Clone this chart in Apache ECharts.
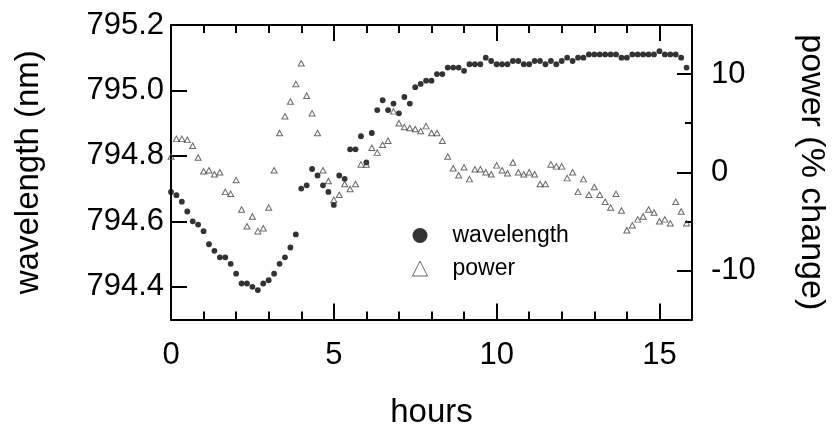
<!DOCTYPE html>
<html><head><meta charset="utf-8">
<script src="https://cdn.jsdelivr.net/npm/echarts@6/dist/echarts.min.js"></script>
<style>html,body{margin:0;padding:0;background:#fff}#c{width:833px;height:428px}</style>
</head><body><div id="c"></div>
<script>
// sample times (minutes since start)
const minutes = [0,10,20,30,40,50,60,70,80,90,100,110,120,130,140,150,160,170,180,190,
  200,210,220,230,240,250,260,270,280,290,300,310,320,330,340,350,360,370,380,390,
  400,410,420,430,440,450,460,470,480,490,500,510,520,530,540,550,560,570,580,590,
  600,610,620,630,640,650,660,670,680,690,700,710,720,730,740,750,760,770,780,790,
  800,810,820,830,840,850,860,870,880,890,900,910,920,930,940,950];
// wavelength (nm)
const wavelength = [794.69,794.68,794.66,794.63,794.60,794.59,794.57,794.53,794.51,794.49,
  794.49,794.47,794.44,794.41,794.41,794.40,794.39,794.41,794.42,794.44,
  794.47,794.49,794.52,794.56,794.70,794.71,794.76,794.74,794.71,794.69,
  794.65,794.74,794.73,794.82,794.82,794.86,794.78,794.87,794.94,794.97,
  794.94,794.96,794.93,794.98,794.96,795.01,795.02,795.03,795.03,795.05,
  795.05,795.07,795.07,795.07,795.06,795.08,795.08,795.08,795.10,795.09,
  795.08,795.08,795.08,795.09,795.09,795.08,795.08,795.09,795.09,795.08,
  795.09,795.08,795.09,795.10,795.09,795.10,795.10,795.11,795.11,795.11,
  795.11,795.11,795.11,795.10,795.10,795.11,795.11,795.11,795.11,795.11,
  795.12,795.11,795.11,795.11,795.10,795.07];
// power (% change)
const power = [1.6,3.4,3.4,3.3,2.7,1.5,0.1,0.2,-0.2,0.0,
  -2.0,-2.2,-0.8,-3.8,-5.5,-4.5,-6.0,-5.7,-3.6,0.2,
  4.0,5.7,7.2,9.0,11.1,7.8,6.0,4.0,0.2,-0.9,
  -2.8,-2.3,-1.2,-1.7,-1.2,0.8,0.8,2.5,2.0,2.8,
  3.2,6.2,5.0,4.6,4.5,4.4,4.2,4.7,4.0,4.0,
  3.2,1.6,0.4,-0.3,0.5,-0.7,0.3,0.3,0.0,-0.2,
  0.7,0.2,-0.1,1.0,0.0,-0.2,0.0,-0.2,-1.2,-1.2,
  0.8,0.6,0.6,-0.6,0.0,-2.0,-0.7,-2.3,-1.5,-2.3,
  -3.0,-3.6,-2.2,-3.9,-5.9,-5.4,-4.8,-4.5,-3.8,-4.1,
  -5.0,-4.8,-5.2,-3.0,-4.0,-5.2];
const hourTicks = [0,5,10,15];
const wavelengthTicks = [794.4,794.6,794.8,795.0,795.2];
const powerTicks = [-10,0,10];

const FONT = 'Liberation Sans, Arial, Helvetica, sans-serif';
const line = {color:'#000', width:2};
const noSplit = {show:false};

const chart = echarts.init(document.getElementById('c'));
chart.setOption({
  animation:false,
  backgroundColor:'#fff',
  textStyle:{fontFamily:FONT},
  grid:{left:171, top:25, width:521, height:294.5, containLabel:false, outerBoundsMode:'none'},
  legend:{
    orient:'vertical', left:412, top:224, padding:0,
    itemWidth:15, itemHeight:15, itemGap:10,
    textStyle:{fontSize:23, color:'#000', fontFamily:FONT, padding:[0,0,0,20]},
    data:[
      {name:'wavelength', icon:'circle', itemStyle:{color:'#000'}},
      {name:'power', icon:'triangle', itemStyle:{color:'#fff', borderColor:'#444', borderWidth:1}}
    ]
  },
  xAxis:[
    {type:'value', position:'bottom', min:0, max:16, interval:5,
     name:'hours', nameLocation:'middle', nameGap:77,
     nameTextStyle:{fontSize:33, color:'#000', fontFamily:FONT},
     axisLine:{show:true, onZero:false, lineStyle:line},
     axisTick:{show:true, inside:true, length:16, lineStyle:line, customValues:hourTicks},
     axisLabel:{customValues:hourTicks, fontSize:31, color:'#000', margin:20, fontFamily:FONT},
     splitLine:noSplit},
    {type:'value', position:'bottom', min:0, max:16, interval:1,
     axisLine:{show:false, onZero:false}, axisTick:{show:true, inside:true, length:8, lineStyle:line},
     axisLabel:{show:false}, splitLine:noSplit},
    {type:'value', position:'top', min:0, max:16, interval:5,
     axisLine:{show:true, onZero:false, lineStyle:line},
     axisTick:{show:true, inside:true, length:16, lineStyle:line, customValues:hourTicks},
     axisLabel:{show:false}, splitLine:noSplit},
    {type:'value', position:'top', min:0, max:16, interval:1,
     axisLine:{show:false, onZero:false}, axisTick:{show:true, inside:true, length:8, lineStyle:line},
     axisLabel:{show:false}, splitLine:noSplit}
  ],
  yAxis:[
    {type:'value', position:'left', min:794.3, max:795.2,
     name:'wavelength (nm)', nameLocation:'middle', nameGap:126,
     nameTextStyle:{fontSize:33, color:'#000', fontFamily:FONT},
     axisLine:{show:true, onZero:false, lineStyle:line},
     axisTick:{show:true, inside:true, length:16, lineStyle:line, customValues:wavelengthTicks},
     axisLabel:{customValues:wavelengthTicks, formatter:v=>Number(v).toFixed(1), fontSize:31, color:'#000', margin:7, fontFamily:FONT},
     splitLine:noSplit},
    {type:'value', position:'right', min:-15, max:15, interval:5,
     name:'power (% change)', nameLocation:'middle', nameRotate:-90, nameGap:102,
     nameTextStyle:{fontSize:34, color:'#000', fontFamily:FONT},
     axisLine:{show:true, onZero:false, lineStyle:line},
     axisTick:{show:true, inside:true, length:15, lineStyle:line, customValues:powerTicks},
     axisLabel:{customValues:powerTicks, fontSize:31, color:'#000', margin:19, fontFamily:FONT},
     splitLine:noSplit},
    {type:'value', position:'right', min:-15, max:15, interval:5,
     axisLine:{show:false, onZero:false}, axisTick:{show:true, inside:true, length:7, lineStyle:line},
     axisLabel:{show:false}, splitLine:noSplit}
  ],
  series:[
    {type:'scatter', name:'wavelength', xAxisIndex:0, yAxisIndex:0,
     symbol:'circle', symbolSize:5.8, itemStyle:{color:'#000'},
     data: minutes.map((m,i)=>[m/60, wavelength[i]])},
    {type:'scatter', name:'power', xAxisIndex:0, yAxisIndex:1,
     symbol:'triangle', symbolSize:[6,5.5],
     itemStyle:{color:'rgba(255,255,255,0)', borderColor:'#444', borderWidth:1},
     data: minutes.map((m,i)=>[m/60, power[i]])}
  ]
});
</script></body></html>
